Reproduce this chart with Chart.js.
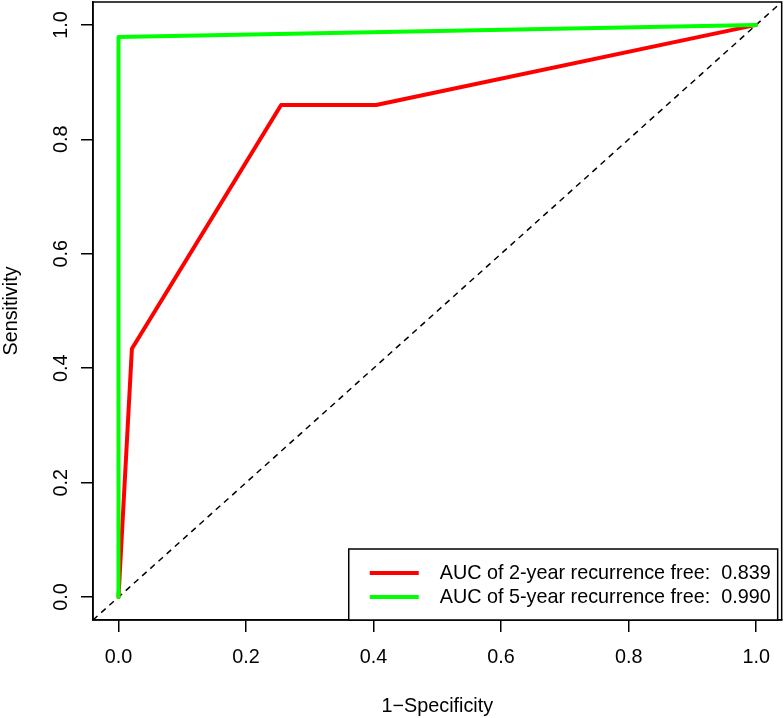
<!DOCTYPE html>
<html>
<head>
<meta charset="utf-8">
<script src="https://cdn.jsdelivr.net/npm/chart.js@4.4.0/dist/chart.umd.min.js"></script>
<style>
  html, body { margin: 0; padding: 0; background: #fff; }
  #wrap { width: 784px; height: 718px; }
</style>
</head>
<body>
<div id="wrap"><canvas id="roc" width="784" height="718"></canvas></div>
<script>
// axis limits and ticks (R style, 4% extension)
const axisMin = -0.04;
const axisMax = 1.04;
const xTicks = [0, 0.2, 0.4, 0.6, 0.8, 1.0];
const yTicks = [0, 0.2, 0.4, 0.6, 0.8, 1.0];

// ROC curve points
const fpr2 = [0, 0.021, 0.255, 0.404, 1];
const tpr2 = [0, 0.434, 0.86, 0.86, 1];
const fpr5 = [0, 0, 1];
const tpr5 = [0, 0.979, 1];

const labels = ['AUC of 2-year recurrence free:  0.839', 'AUC of 5-year recurrence free:  0.990'];
const colors = ['#ff0000', '#00ff00'];

const FONT = '"Liberation Sans", Arial, sans-serif';
const FS = 19.8;

const toPoints = (xs, ys) => xs.map((x, i) => ({ x: x, y: ys[i] }));

// frame, rotated y tick labels and legend box
const extras = {
  id: 'extras',
  afterDraw(chart) {
    const { ctx, chartArea: a, scales } = chart;
    ctx.save();
    ctx.strokeStyle = '#000';
    ctx.lineWidth = 1.5;
    ctx.strokeRect(a.left, a.top, a.right - a.left, a.bottom - a.top);

    ctx.fillStyle = '#000';
    ctx.font = FS + 'px ' + FONT;
    ctx.textAlign = 'center';
    ctx.textBaseline = 'middle';
    yTicks.forEach(v => {
      const py = scales.y.getPixelForValue(v);
      ctx.save();
      ctx.translate(a.left - 31, py);
      ctx.rotate(-Math.PI / 2);
      ctx.fillText(v.toFixed(1), 0, 0);
      ctx.restore();
    });

    // legend (bottomright)
    const textW = Math.max(...labels.map(l => ctx.measureText(l).width));
    const boxW = textW + 98;
    const boxH = 71;
    const bx = a.right - 4 - boxW;
    const by = a.bottom - boxH;
    ctx.fillStyle = '#fff';
    ctx.fillRect(bx, by, boxW, boxH);
    ctx.strokeRect(bx, by, boxW, boxH);
    labels.forEach((l, i) => {
      const ly = by + 24 + i * 24;
      ctx.strokeStyle = colors[i];
      ctx.lineWidth = 4;
      ctx.beginPath();
      ctx.moveTo(bx + 21, ly);
      ctx.lineTo(bx + 70, ly);
      ctx.stroke();
      ctx.fillStyle = '#000';
      ctx.textAlign = 'left';
      ctx.fillText(l, bx + 91, ly + 1);
    });
    ctx.restore();
  }
};

const axisCommon = {
  type: 'linear',
  min: axisMin,
  max: axisMax,
  border: { display: true, color: '#000', width: 1.5 },
  grid: { drawOnChartArea: false, drawTicks: true, tickLength: 12, color: '#000', lineWidth: 1.5 },
};

new Chart(document.getElementById('roc'), {
  type: 'scatter',
  data: {
    datasets: [
      {
        label: 'diagonal',
        data: toPoints([axisMin, axisMax], [axisMin, axisMax]),
        showLine: true,
        borderColor: '#000',
        borderWidth: 1.5,
        borderDash: [6, 5],
        pointRadius: 0,
        order: 3,
      },
      {
        label: labels[0],
        data: toPoints(fpr2, tpr2),
        showLine: true,
        borderColor: colors[0],
        borderWidth: 4,
        borderJoinStyle: 'round',
        borderCapStyle: 'round',
        pointRadius: 0,
        order: 2,
      },
      {
        label: labels[1],
        data: toPoints(fpr5, tpr5),
        showLine: true,
        borderColor: colors[1],
        borderWidth: 4,
        borderJoinStyle: 'round',
        borderCapStyle: 'round',
        pointRadius: 0,
        order: 1,
      },
    ],
  },
  options: {
    responsive: false,
    animation: false,
    layout: { padding: { top: 2, right: 2, left: 0, bottom: 0 } },
    plugins: { legend: { display: false }, tooltip: { enabled: false } },
    scales: {
      x: {
        ...axisCommon,
        position: 'bottom',
        afterBuildTicks: s => { s.ticks = xTicks.map(v => ({ value: v })); },
        afterFit: s => { s.height = 98; },
        ticks: {
          color: '#000',
          font: { family: FONT, size: FS },
          padding: 14,
          maxRotation: 0,
          callback: v => v.toFixed(1),
        },
        title: {
          display: true,
          text: '1\u2212Specificity',
          color: '#000',
          font: { family: FONT, size: FS },
          padding: { top: 0, bottom: 0 },
        },
      },
      y: {
        ...axisCommon,
        position: 'left',
        afterBuildTicks: s => { s.ticks = yTicks.map(v => ({ value: v })); },
        afterFit: s => { s.width = 93; },
        ticks: { display: false },
        title: {
          display: true,
          text: 'Sensitivity',
          color: '#000',
          font: { family: FONT, size: FS },
          padding: { top: 0, bottom: 0 },
        },
      },
    },
  },
  plugins: [extras],
});
</script>
</body>
</html>
